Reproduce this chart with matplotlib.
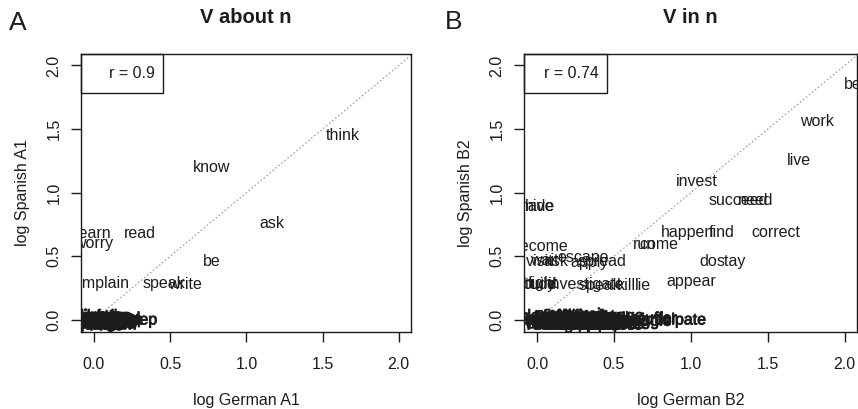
import matplotlib
matplotlib.use("Agg")
import matplotlib.pyplot as plt
import matplotlib.patheffects as pe
from matplotlib.patches import Rectangle

plt.rcParams['font.family'] = ['Liberation Sans', 'DejaVu Sans']

# Panel A: V about n (German A1 vs Spanish A1)
words_a = ["think", "know", "ask", "be", "read", "learn", "worry", "complain",
           "speak", "write",
           "talk", "dream", "care", "hear", "laugh", "joke", "sing", "cry",
           "forget", "wonder", "argue", "tell", "feel", "sleep", "teach",
           "lie", "pray", "cheat", "joke", "boast", "chat", "hear", "brag",
           "lecture", "gossip", "reflect", "muse", "rave", "moan", "whine",
           "inform", "warn", "remind", "rant", "dispute", "joke", "worry",
           "laugh", "write", "dream", "argue", "speak", "inquire", "agree"]
x_a = [1.63, 0.77, 1.17, 0.77, 0.30, 0.00, 0.00, 0.02,
       0.46, 0.60,
       0.02, 0.05, 0.08, 0.10, 0.04, 0.12, 0.06, 0.15,
       0.09, 0.03, 0.13, 0.24, 0.22, 0.29, 0.00,
       0.01, 0.07, 0.11, 0.14, 0.17, 0.00, 0.05, 0.09,
       0.02, 0.06, 0.10, 0.13, 0.16, 0.19, 0.04,
       0.08, 0.00, 0.12, 0.03, 0.07, 0.01, 0.04,
       0.07, 0.10, 0.13, 0.02, 0.06, 0.09, 0.15]
y_a = [1.45, 1.20, 0.76, 0.46, 0.68, 0.68, 0.60, 0.29,
       0.29, 0.28,
       0.01, 0.00, 0.02, -0.01, 0.03, 0.00, -0.02, 0.01,
       0.00, -0.01, 0.02, -0.02, 0.01, 0.00, -0.03,
       -0.02, 0.02, -0.01, 0.01, 0.00, 0.03, -0.03, -0.02,
       0.02, 0.01, -0.03, 0.02, -0.01, 0.00, -0.03,
       0.03, -0.01, -0.03, 0.00, -0.02, -0.04, 0.00,
       -0.03, 0.02, -0.04, 0.01, -0.02, 0.03, -0.02]
r_a = "r = 0.9"

# Panel B: V in n (German B2 vs Spanish B2)
words_b = ["be", "work", "live", "invest", "succeed", "need", "happen", "find",
           "correct", "do", "stay", "appear", "run", "come", "become", "have",
           "hide", "visit", "wait", "ask", "escape", "apply", "spread",
           "study", "build", "fight", "investigate", "speak", "kill", "lie",
           "drive", "walk", "swim", "play", "cook", "rest", "teach", "draw",
           "sit", "shop", "dance", "act", "fail", "win", "grow", "die",
           "move", "vote", "wake", "lose", "stand", "arrive", "train",
           "serve", "believe", "remain", "struggle", "suffer", "participate",
           "sleep", "hunt", "fish", "trade", "dwell", "settle", "shine",
           "wander", "camp", "hang", "sink", "float", "appear", "exist",
           "thrive", "star", "invest", "engage", "persist", "excel", "fit",
           "result", "consist", "lie", "hide", "belong", "travel", "meet",
           "gather", "dive", "think", "rest", "trust", "sing", "walk",
           "swim", "cook", "train", "shop", "dance", "serve", "stay", "wait"]
x_b = [2.05, 1.82, 1.70, 1.04, 1.31, 1.42, 0.98, 1.20,
       1.55, 1.11, 1.26, 1.00, 0.70, 0.79, 0.02, 0.00,
       0.02, 0.02, 0.05, 0.12, 0.30, 0.34, 0.42,
       0.00, 0.02, 0.04, 0.32, 0.41, 0.58, 0.69,
       0.00, 0.03, 0.06, 0.09, 0.12, 0.15, 0.18, 0.21,
       0.24, 0.27, 0.30, 0.33, 0.36, 0.39, 0.42, 0.45,
       0.48, 0.51, 0.54, 0.57, 0.10, 0.20, 0.35,
       0.44, 0.25, 0.60, 0.69, 0.78, 0.86,
       0.01, 0.04, 0.07, 0.10, 0.13, 0.16, 0.19,
       0.22, 0.25, 0.28, 0.31, 0.34, 0.37, 0.40,
       0.43, 0.46, 0.49, 0.52, 0.55, 0.05, 0.08,
       0.14, 0.17, 0.23, 0.29, 0.38, 0.47, 0.53,
       0.11, 0.26, 0.32, 0.02, 0.08, 0.14, 0.20,
       0.26, 0.32, 0.38, 0.44, 0.50, 0.56, 0.17, 0.35]
y_b = [1.85, 1.56, 1.25, 1.09, 0.94, 0.94, 0.69, 0.69,
       0.69, 0.46, 0.46, 0.30, 0.59, 0.59, 0.58, 0.89,
       0.89, 0.46, 0.47, 0.46, 0.49, 0.45, 0.46,
       0.28, 0.28, 0.29, 0.28, 0.27, 0.27, 0.27,
       0.00, -0.02, 0.01, -0.01, 0.02, 0.00, -0.02, 0.01,
       -0.01, 0.00, 0.02, -0.02, 0.01, 0.00, -0.01, 0.02,
       0.00, -0.02, 0.01, -0.01, 0.01, -0.01, 0.00,
       -0.02, 0.02, 0.00, -0.01, 0.01, 0.00,
       0.03, -0.03, 0.02, 0.03, -0.03, 0.03, -0.03,
       0.03, -0.03, 0.03, -0.03, 0.03, -0.03, 0.03,
       -0.03, 0.03, -0.03, 0.03, -0.03, -0.03, 0.03,
       -0.03, 0.03, 0.03, 0.02, -0.02, 0.01, -0.02,
       0.00, 0.01, -0.01, -0.04, -0.04, -0.04, -0.04,
       -0.04, -0.04, -0.04, -0.04, -0.04, -0.04, 0.04, 0.04]
r_b = "r = 0.74"

ticks = [0.0, 0.5, 1.0, 1.5, 2.0]
ink = "#1c1c1c"
# the pile of words near zero prints as a solid black smear in the original
heavy = [pe.withStroke(linewidth=0.6, foreground=ink)]

fig = plt.figure(figsize=(8.58, 4.09), dpi=100)
ax_a = fig.add_axes([81 / 858, 77 / 409, 330 / 858, 278 / 409])
ax_b = fig.add_axes([524 / 858, 77 / 409, 333 / 858, 278 / 409])


def panel(ax, words, xs, ys, rtxt, title, xlab, ylab):
    ax.set_xlim(-0.085, 2.08)
    ax.set_ylim(-0.095, 2.09)
    ax.plot([-0.2, 2.3], [-0.2, 2.3], ls=(0, (1.5, 2)), color="#999999", lw=0.8)
    for w, x, y in zip(words, xs, ys):
        ax.text(x, y, w, ha="center", va="center", fontsize=11.5, color=ink,
                clip_on=True, path_effects=heavy if abs(y) < 0.1 else None)
    ax.add_patch(Rectangle((0, 0.86), 0.248, 0.14, transform=ax.transAxes,
                           fill=False, ec=ink, lw=1.0, clip_on=False))
    ax.text(0.225, 0.93, rtxt, transform=ax.transAxes, ha="right",
            va="center", fontsize=11.5, color=ink)
    ax.set_xticks(ticks)
    ax.set_yticks(ticks)
    ax.set_xticklabels(["%.1f" % t for t in ticks])
    ax.set_yticklabels(["%.1f" % t for t in ticks], rotation=90, va="center")
    ax.tick_params(direction="out", length=7, width=1, colors=ink,
                   labelsize=11.5)
    ax.tick_params(axis="x", pad=11)
    ax.tick_params(axis="y", pad=7)
    for s in ax.spines.values():
        s.set_color(ink)
        s.set_linewidth(1.0)
    ax.set_xlabel(xlab, fontsize=11.5, color=ink, labelpad=15)
    ax.set_ylabel(ylab, fontsize=11.5, color=ink, labelpad=12)
    ax.set_title(title, fontsize=14.5, fontweight="bold", color=ink, pad=22)


panel(ax_a, words_a, x_a, y_a, r_a, "V about n", "log German A1", "log Spanish A1")
panel(ax_b, words_b, x_b, y_b, r_b, "V in n", "log German B2", "log Spanish B2")

fig.text(18 / 858, 1 - 23 / 409, "A", fontsize=19, color=ink, ha="center", va="center")
fig.text(454 / 858, 1 - 22 / 409, "B", fontsize=19, color=ink, ha="center", va="center")

fig.savefig("out.png", dpi=100, facecolor="white")
